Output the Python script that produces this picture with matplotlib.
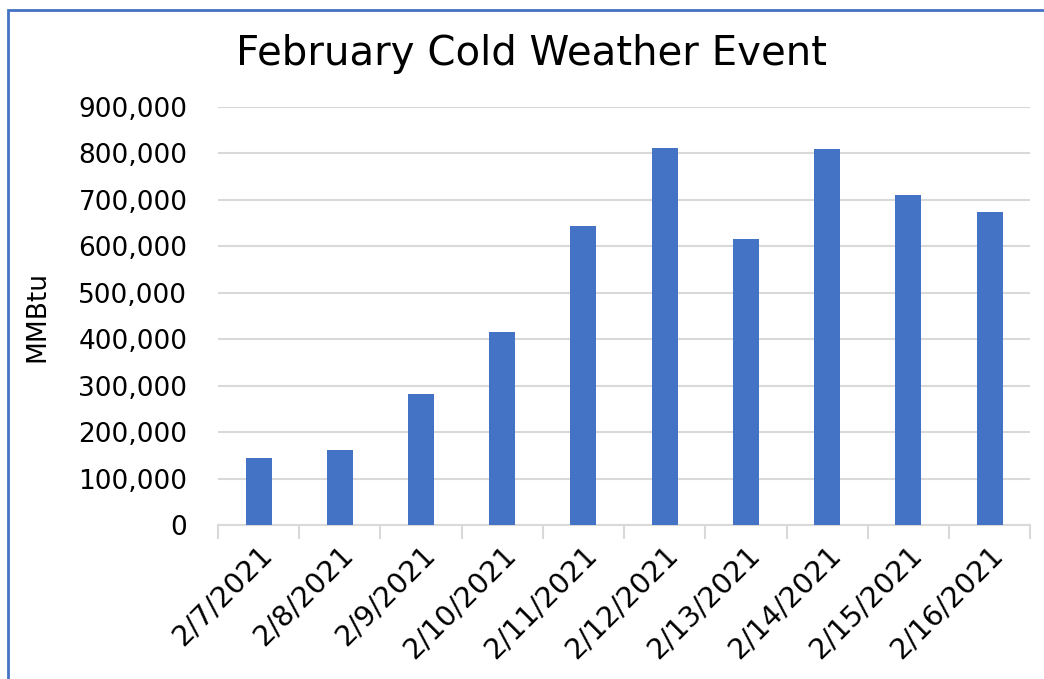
import numpy as np
import matplotlib
import matplotlib.pyplot as plt
from matplotlib.patches import Rectangle

matplotlib.use('Agg')

dates = ["2/7/2021", "2/8/2021", "2/9/2021", "2/10/2021", "2/11/2021",
         "2/12/2021", "2/13/2021", "2/14/2021", "2/15/2021", "2/16/2021"]
mmbtu = [144000, 161000, 283000, 415000, 644000,
         811000, 615000, 809000, 711000, 673000]
yticks = np.arange(0, 900001, 100000)

fig = plt.figure(figsize=(10.44, 6.79), dpi=100)
ax = fig.add_axes([0.2088, 0.2268, 0.778, 0.6156])

x = np.arange(len(dates))
ax.bar(x, mmbtu, width=0.32, color='#4472C4', zorder=3)

ax.set_xlim(-0.5, len(dates) - 0.5)
ax.set_ylim(0, 900000)
ax.set_yticks(yticks)
ax.set_yticklabels(['{:,}'.format(v) for v in yticks])
ax.grid(True, axis='y', color='#d9d9d9', linewidth=1.5, zorder=0)

# ticks between categories, labels at centers
ax.set_xticks(np.arange(-0.5, len(dates), 1.0))
ax.set_xticklabels([])
ax.set_xticks(x, minor=True)
ax.set_xticklabels(dates, minor=True, rotation=45, ha='right',
                   rotation_mode='anchor', fontsize=20.5)
ax.tick_params(axis='x', which='major', length=10, width=1.5,
               color='#d9d9d9', direction='out')
ax.tick_params(axis='x', which='minor', length=0, pad=11)
ax.tick_params(axis='y', length=0, labelsize=19, pad=22)

for s in ['top', 'right', 'left']:
    ax.spines[s].set_visible(False)
ax.spines['bottom'].set_color('#d9d9d9')
ax.spines['bottom'].set_linewidth(1.5)

ax.set_ylabel('MMBtu', fontsize=19, labelpad=20)
fig.text(0.509, 0.921, 'February Cold Weather Event', fontsize=29,
         ha='center', va='center')

# chart border
fig.patches.append(Rectangle((8 / 1044, -0.1), 1.2, 1.1 - 10 / 679,
                             transform=fig.transFigure, fill=False,
                             edgecolor='#4472C4', linewidth=2))

plt.savefig('out.png', dpi=100)
